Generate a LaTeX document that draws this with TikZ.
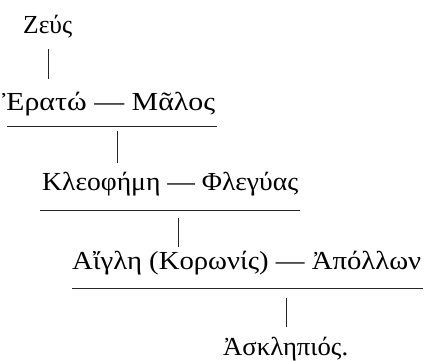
\documentclass[tikz,border=0pt]{standalone}
\usepackage{graphicx}
\usepackage{fontspec}
\setmainfont{Liberation Serif}
\begin{document}
\begin{tikzpicture}[x=1pt,y=-1pt,
  gname/.style={inner sep=0pt,anchor=base west,font=\fontsize{26}{30}\selectfont},
  ln/.style={line width=0.9pt,black!85}]
\useasboundingbox (0,0) rectangle (425,360);
\node[gname] (zeus) at (23,33) {\resizebox{49pt}{\height}{Ζεύς}};
\node[gname] (erato) at (2,110) {\resizebox{213pt}{\height}{Ἐρατώ — Μᾶλος}};
\node[gname] (kleo) at (42,190) {\resizebox{256pt}{\height}{Κλεοφήμη — Φλεγύας}};
\node[gname] (aigle) at (72,269) {\resizebox{349pt}{\height}{Αἴγλη (Κορωνίς) — Ἀπόλλων}};
\node[gname] (askl) at (223,355) {\resizebox{125pt}{\height}{Ἀσκληπιός.}};
\coordinate (v1a) at (48,49); \coordinate (v1b) at (48,79);
\coordinate (h1a) at (7,126); \coordinate (h1b) at (217,126);
\coordinate (v2a) at (117,131); \coordinate (v2b) at (117,163);
\coordinate (h2a) at (40,210); \coordinate (h2b) at (300,210);
\coordinate (v3a) at (178,218); \coordinate (v3b) at (178,247);
\coordinate (h3a) at (72,288); \coordinate (h3b) at (423,288);
\coordinate (v4a) at (286,298); \coordinate (v4b) at (286,327);
\draw[ln] (v1a) -- (v1b);
\draw[ln] (h1a) -- (h1b);
\draw[ln] (v2a) -- (v2b);
\draw[ln] (h2a) -- (h2b);
\draw[ln] (v3a) -- (v3b);
\draw[ln] (h3a) -- (h3b);
\draw[ln] (v4a) -- (v4b);
\end{tikzpicture}
\end{document}
